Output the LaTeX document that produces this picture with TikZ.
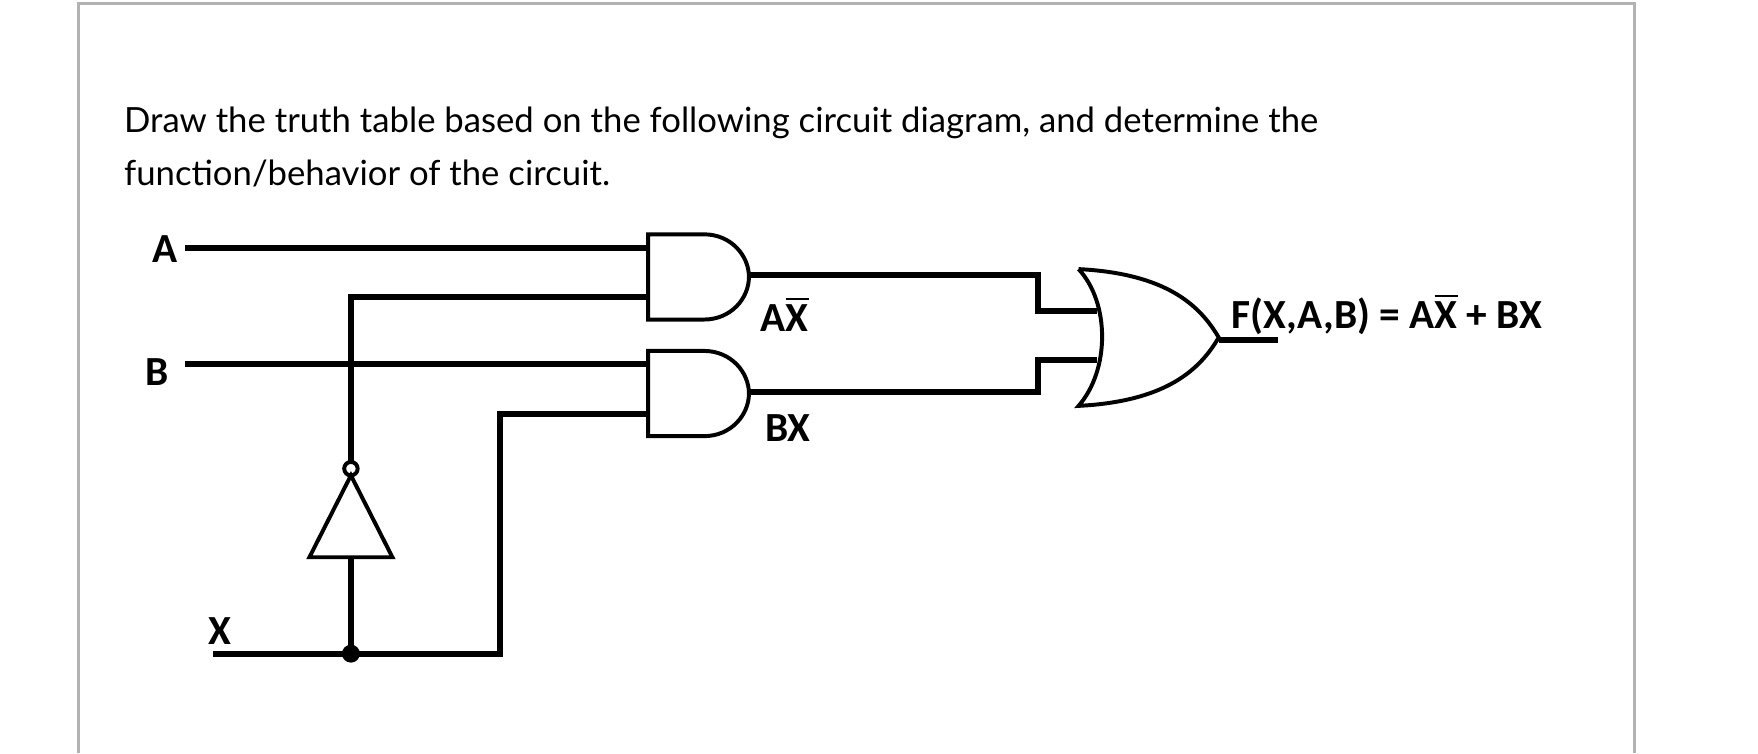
\documentclass[tikz,border=0pt]{standalone}
\usepackage{fontspec}
\setmainfont{Lato}
\newfontfamily\lbl{Carlito}
\begin{document}
\begin{tikzpicture}[x=0.01cm,y=-0.01cm,
  wire/.style={line width=1.5pt},
  gate/.style={line width=1pt},
  lab/.style={font=\lbl\bfseries\fontsize{10.5pt}{12pt}\selectfont, inner sep=0pt},
  body/.style={font=\fontsize{8.8pt}{11pt}\selectfont, inner sep=0pt, anchor=base west}]
\useasboundingbox (0,0) rectangle (1568,672);
\draw[gray!60, line width=0.6pt] (70,672) -- (70,3) -- (1458,3) -- (1458,672);
\node[body] (t1) at (110,118) {Draw the truth table based on the following circuit diagram, and determine the};
\node[body] (t2) at (110,165) {function/behavior of the circuit.};
% gates
\draw[gate] (578,209) -- (628,209) .. controls (652,209) and (668,228) .. (668,247) .. controls (668,266) and (652,285) .. (628,285) -- (578,285) -- cycle;
\draw[gate] (578,313) -- (628,313) .. controls (652,313) and (668,332) .. (668,351) .. controls (668,370) and (652,389) .. (628,389) -- (578,389) -- cycle;
\draw[gate] (962,240) .. controls (990,270) and (990,330) .. (962,362)
  .. controls (1040,358) and (1070,330) .. (1087,301)
  .. controls (1070,272) and (1040,244) .. (962,240);
% inverter
\draw[gate] (313,424) -- (350,497) -- (276,497) -- cycle;
\draw[gate] (313,418) circle[radius=6];
% labels
\node[lab] (A) at (147,222) {A};
\node[lab] (B) at (140,332) {B};
\node[lab] (X) at (196,563) {X};
% wires
\draw[wire] (165,221) -- (578,221);
\draw[wire] (165,325) -- (578,325);
\draw[wire] (578,265) -- (313,265) -- (313,412);
\draw[wire] (313,497) -- (313,583);
\draw[wire] (190,583) -- (446,583) -- (446,369) -- (578,369);
\fill (313,583) circle[radius=8];
\draw[wire] (668,245) -- (926,245) -- (926,277) -- (978,277);
\draw[wire] (668,350) -- (926,350) -- (926,321) -- (978,321);
\draw[wire] (1087,303) -- (1140,303);
\node[lab] (ax) at (700,280) {A$\overline{\mbox{X}}$};
\node[lab] (bx) at (703,382) {BX};
\node[lab] (f) at (1237,280) {F(X,A,B) = A$\overline{\mbox{X}}$ + BX};
\end{tikzpicture}
\end{document}
